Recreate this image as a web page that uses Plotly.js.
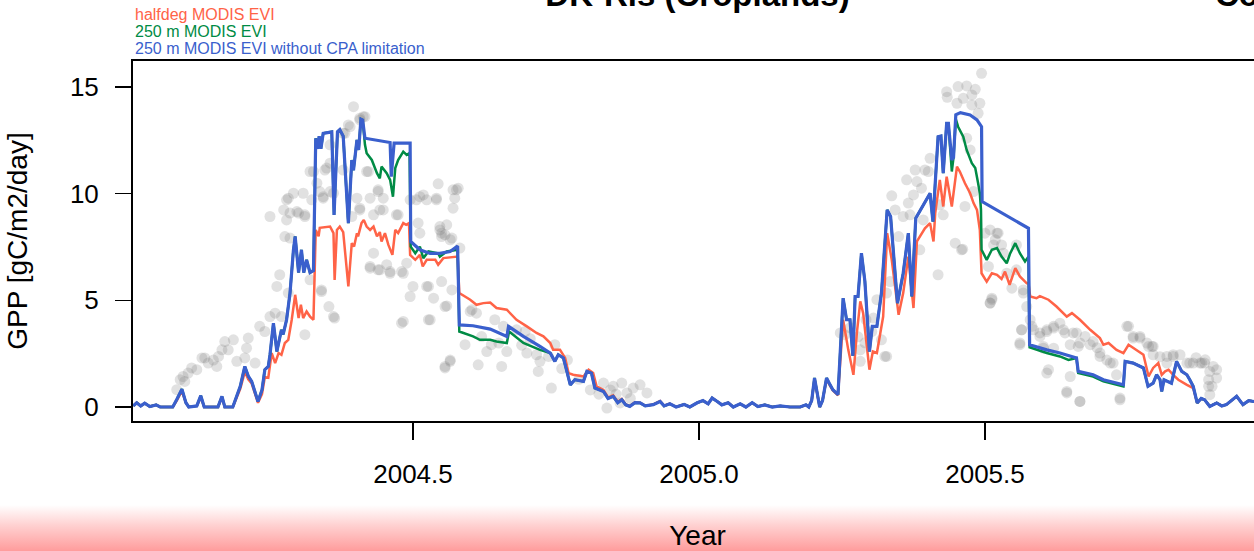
<!DOCTYPE html>
<html>
<head>
<meta charset="utf-8">
<script src="https://cdn.plot.ly/plotly-3.0.1.min.js"></script>
<style>
html,body{margin:0;padding:0;width:1254px;height:551px;overflow:hidden;background:#fff;}
#band{position:absolute;left:0;top:505px;width:1254px;height:46px;background:linear-gradient(to bottom,#ffffff 0%,#ffd0d0 45%,#ff9c9c 100%);z-index:0;}
#chart{position:absolute;left:0;top:0;width:1262px;height:551px;z-index:1;}
</style>
</head>
<body>
<div id="band"></div>
<div id="chart"></div>
<script>
// ---- data ----
const xTickVals = [2004.5, 2005.0, 2005.5];
const xTickText = ["2004.5", "2005.0", "2005.5"];
const yTickVals = [0, 5, 10, 15];
const yTickText = ["0", "5", "10", "15"];
const seriesNames = ["halfdeg MODIS EVI", "250 m MODIS EVI", "250 m MODIS EVI without CPA limitation"];

// observed GPP (grey dots)
const obsYear = [
2004.087,2004.093,2004.098,2004.101,2004.107,2004.113,2004.122,2004.131,2004.136,2004.142,2004.151,2004.157,2004.160,2004.166,2004.171,2004.177,2004.186,2004.192,2004.206,2004.212,2004.209,2004.224,2004.232,2004.241,2004.250,2004.259,2004.262,2004.267,2004.270,2004.282,2004.285,2004.311,2004.320,2004.340,2004.353,2004.363,2004.425,2004.439,2004.454,2004.460,2004.480,2004.483,2004.500,2004.495,2004.527,2004.530,2004.536,2004.550,2004.556,2004.556,2004.565,
2004.396,2004.413,2004.407,2004.390,2004.378,2004.355,2004.346,2004.326,2004.332,2004.323,2004.308,2004.291,2004.279,2004.274,2004.285,2004.297,2004.311,2004.250,2004.279,2004.343,2004.361,2004.402,2004.407,2004.431,2004.439,2004.448,2004.471,2004.495,2004.506,2004.518,2004.544,2004.541,2004.509,2004.512,2004.547,2004.556,2004.419,2004.378,2004.355,2004.387,2004.407,2004.416,2004.381,2004.422,2004.439,2004.425,2004.442,2004.448,2004.474,2004.512,2004.524,2004.541,2004.570,2004.570,2004.579,2004.547,2004.550,2004.568,2004.276,2004.282,2004.300,2004.311,2004.337,2004.343,2004.355,2004.320,2004.349,2004.407,2004.393,2004.431,2004.442,2004.460,2004.480,2004.489,2004.425,2004.361,2004.340,2004.524,2004.568,2004.483,2004.527,2004.600,
2004.576,2004.573,2004.559,2004.550,2004.565,2004.582,2004.559,2004.603,2004.611,2004.591,2004.565,2004.556,2004.614,2004.629,2004.637,2004.643,2004.655,2004.658,2004.664,2004.681,2004.696,2004.699,2004.716,2004.722,2004.719,2004.737,2004.748,2004.742,2004.833,2004.850,2004.865,2004.874,2004.885,2004.897,2004.909,2004.839,2004.862,2004.620,2004.650,2004.690,2004.705,2004.760,2004.770,2004.790,2004.810,2004.825,2004.845,2004.855,2004.880,
2005.494,2005.433,2005.453,2005.468,2005.483,2005.477,2005.462,2005.451,2005.434,2005.491,2005.477,2005.488,2005.468,2005.474,2005.404,2005.395,2005.378,2005.401,2005.363,2005.381,2005.389,2005.337,2005.375,2005.343,2005.366,2005.357,2005.369,2005.392,2005.421,2005.427,2005.480,2005.465,2005.448,2005.459,2005.418,2005.386,2005.349,2005.334,2005.328,2005.305,2005.319,2005.325,2005.282,2005.247,2005.509,2005.523,2005.518,2005.529,2005.538,2005.555,2005.567,2005.573,2005.512,2005.509,2005.564,2005.561,
2005.255,2005.264,2005.278,2005.290,2005.292,2005.302,2005.328,2005.282,2005.311,
2005.461,2005.500,2005.521,2005.515,2005.532,2005.506,2005.555,2005.547,2005.567,2005.582,2005.596,2005.608,2005.620,2005.631,2005.640,2005.602,2005.620,2005.649,2005.660,2005.675,2005.663,2005.689,2005.696,2005.701,2005.713,2005.724,2005.611,2005.649,2005.643,2005.666,2005.751,2005.759,2005.771,2005.783,2005.792,2005.794,2005.730,2005.736,2005.818,2005.829,2005.853,2005.864,2005.879,2005.893,2005.905,2005.891,2005.897,2005.806,2005.841,2005.869,2005.885,2005.579,
2005.608,2005.620,2005.637,2005.654,2005.666,2005.684,2005.701,2005.719,2005.748,2005.759,2005.771,2005.786,2005.794,2005.818,2005.829,2005.858,2005.876,2005.884,2005.899,2005.905,2005.891,2005.893,2005.608,2005.643,2005.666,2005.736,2005.564,2005.561,2005.585,2005.596,2005.602,2005.512,2005.509
];
const obsGPP = [
0.81,1.28,1.43,1.2,1.59,1.83,1.75,2.3,2.3,2.06,2.2,1.9,2.37,2.68,3.07,2.68,3.15,2.14,2.3,3.23,2.76,2.06,3.78,3.54,4.24,4.4,5.65,6.2,4.24,5.34,7.92,3.39,5.96,5.41,4.71,4.17,6.51,6.43,6.67,6.27,3.93,6.27,5.65,5.18,5.65,4.09,5.1,5.88,4.71,1.9,2.2,
14.08,13.61,13.46,13.14,12.83,11.43,11.11,11.04,10.49,9.71,10.02,10.02,9.71,9.24,9.09,9.16,9.01,8.93,8.77,9.86,10.02,9.79,9.24,9.01,10.1,9.24,9.01,9.71,9.71,9.94,10.46,9.71,8.62,8.15,8.3,8.07,11.04,11.11,12.29,13.22,13.54,13.61,12.83,11.04,10.18,9.79,9.24,9.79,9.01,9.86,9.71,9.79,9.32,10.18,10.26,8.46,7.99,7.92,7.99,9.79,9.09,8.93,10.1,9.79,10.1,11.04,11.2,9.32,8.93,7.21,6.43,6.35,6.35,6.74,6.59,4.24,5.49,5.65,5.49,4.01,4.09,4.48,
10.18,9.79,8.54,8.15,7.84,7.45,4.74,4.56,4.4,2.92,2.14,1.83,1.98,2.6,2.92,4.09,1.9,3.78,2.6,3.62,3.54,2.53,2.45,2.14,1.67,2.37,2.92,0.89,1.12,0.97,1.12,0.66,0.89,1.04,0.66,-0.05,0.19,3.3,3.0,2.9,3.2,1.8,2.2,1.3,0.8,0.6,0.8,0.6,0.4,
15.64,14.78,15.02,15.05,14.89,14.63,14.47,14.24,14.52,14.24,14.16,13.77,12.6,12.05,11.66,11.11,11.11,11.04,10.65,10.57,10.26,9.9,9.94,9.24,9.56,8.93,9.01,8.77,9.48,9.01,10.1,9.4,7.68,7.37,6.2,7.37,7.99,5.88,5.34,4.17,3.15,2.37,2.68,3.47,8.3,8.15,7.84,7.6,6.27,7.6,5.49,4.71,5.1,4.87,3.62,2.92,
3.39,3.71,3.29,3.01,4.09,3.54,2.37,2.14,5.03,
7.4,8.15,8.15,7.6,7.21,6.59,6.43,5.57,5.34,3.78,3.47,3.62,3.78,3.93,3.47,2.84,2.76,2.92,3.47,3.31,2.84,3.07,2.78,2.53,2.2,2.06,1.75,1.43,0.73,0.26,3.78,3.31,3.23,3.0,2.84,2.45,1.51,0.42,2.06,2.45,2.06,2.06,2.06,1.67,1.75,1.28,0.97,2.36,2.45,2.31,2.21,4.09,
3.54,3.7,3.62,3.47,3.0,2.92,2.37,2.06,3.78,3.23,3.31,2.84,2.84,2.37,2.37,2.06,2.06,2.06,1.9,1.36,0.97,0.58,1.59,0.66,0.26,0.34,3.62,3.0,3.62,3.31,2.76,5.03,4.87
];

// 250 m MODIS EVI without CPA limitation (blue)
const noCpaYear = [
2004.011,2004.017,2004.024,2004.031,2004.040,2004.051,2004.058,2004.080,2004.087,2004.096,2004.103,2004.108,2004.122,2004.129,2004.135,2004.159,2004.166,2004.171,2004.185,2004.198,2004.206,2004.212,2004.218,2004.229,2004.236,2004.241,2004.247,2004.250,2004.256,2004.262,2004.270,2004.273,2004.279,2004.285,2004.291,2004.294,2004.300,2004.305,2004.309,2004.314,2004.320,2004.326,2004.330,2004.333,2004.336,2004.339,2004.343,2004.358,2004.362,2004.368,2004.372,2004.378,2004.387,2004.393,2004.396,2004.399,2004.402,2004.405,2004.409,2004.412,2004.416,2004.460,2004.462,2004.467,2004.495,2004.496,2004.512,2004.530,2004.547,2004.565,2004.578,2004.581,2004.605,2004.635,2004.664,2004.667,2004.693,2004.722,2004.740,2004.748,2004.754,2004.763,2004.769,2004.775,2004.783,2004.798,2004.804,2004.812,2004.818,2004.833,2004.841,2004.850,2004.858,2004.865,2004.872,2004.879,2004.888,2004.897,2004.906,2004.920,2004.932,2004.939,2004.949,2004.960,2004.974,2004.984,2004.997,2005.007,2005.016,2005.023,2005.032,2005.040,2005.051,2005.060,2005.072,2005.082,2005.093,2005.103,2005.115,2005.128,2005.142,2005.159,2005.177,2005.187,2005.192,2005.197,2005.202,2005.208,2005.211,2005.216,2005.223,2005.228,2005.234,2005.243,2005.252,2005.258,2005.264,2005.269,2005.273,2005.278,2005.284,2005.290,2005.298,2005.303,2005.311,2005.319,2005.329,2005.335,2005.347,2005.357,2005.366,2005.372,2005.379,2005.404,2005.409,2005.413,2005.418,2005.423,2005.427,2005.433,2005.436,2005.442,2005.445,2005.449,2005.457,2005.474,2005.486,2005.494,2005.495,2005.576,2005.578,2005.608,2005.631,2005.660,2005.663,2005.689,2005.707,2005.742,2005.745,2005.759,2005.777,2005.785,2005.794,2005.800,2005.806,2005.809,2005.813,2005.826,2005.835,2005.844,2005.853,2005.858,2005.864,2005.871,2005.878,2005.884,2005.893,2005.905,2005.914,2005.922,2005.930,2005.940,2005.951,2005.961,2005.970,2005.985
];
const noCpaGPP = [
0.05,0.2,0.05,0.18,0.02,0.1,0.0,0.0,0.35,0.84,0.2,0.0,0.05,0.53,0.0,0.0,0.5,0.0,0.0,0.97,1.9,1.45,1.2,0.26,0.8,1.75,1.9,2.45,3.93,2.6,3.62,3.4,4.09,5.34,7.37,8.0,6.3,7.37,6.3,6.9,6.3,6.4,12.6,12.1,12.7,12.1,12.83,12.9,9.0,12.9,13.0,12.7,8.62,11.58,11.1,11.8,12.52,12.05,13.49,13.45,12.6,12.4,10.8,12.37,12.37,7.76,7.37,7.2,7.2,7.29,7.55,3.85,3.81,3.65,3.31,3.78,3.31,2.84,2.53,2.14,2.45,2.3,1.59,1.04,1.28,1.2,1.67,1.59,0.89,0.73,0.4,0.5,0.2,0.34,0.1,0.03,0.2,0.19,0.05,0.11,0.26,0.05,0.15,0.0,0.12,0.0,0.2,0.3,0.15,0.42,0.26,0.1,0.2,0.0,0.15,0.0,0.2,0.02,0.1,0.0,0.05,0.0,0.0,0.1,0.0,0.3,1.36,0.5,0.0,0.3,1.36,1.1,0.81,0.58,5.1,4.09,4.09,2.4,5.18,5.18,7.21,5.9,2.6,3.78,3.78,5.34,9.24,8.93,4.87,6.27,8.15,5.18,8.85,10.02,8.69,10.49,12.67,12.7,10.96,13.3,13.3,11.58,11.7,13.7,13.8,13.69,13.46,13.14,9.63,8.38,2.92,2.68,2.53,2.3,1.67,1.51,1.28,1.04,2.14,2.06,1.83,0.97,1.12,1.51,1.28,0.73,1.28,1.12,2.14,1.67,1.51,1.28,0.97,0.19,0.4,0.34,0.03,0.19,0.05,0.11,0.3,0.5,0.11,0.3,0.26,0.2
];

// 250 m MODIS EVI (green)
const evi250Year = [
2004.011,2004.017,2004.024,2004.031,2004.040,2004.051,2004.058,2004.080,2004.087,2004.096,2004.103,2004.108,2004.122,2004.129,2004.135,2004.159,2004.166,2004.171,2004.185,2004.198,2004.206,2004.212,2004.218,2004.229,2004.236,2004.241,2004.247,2004.250,2004.256,2004.262,2004.270,2004.273,2004.279,2004.285,2004.291,2004.294,2004.300,2004.305,2004.309,2004.314,2004.320,2004.326,2004.330,2004.333,2004.336,2004.339,2004.343,2004.358,2004.362,2004.368,2004.372,2004.378,2004.387,2004.393,2004.396,2004.399,2004.402,2004.405,2004.409,2004.412,
2004.416,2004.419,2004.428,2004.437,2004.442,2004.445,2004.454,2004.460,2004.465,2004.469,2004.474,2004.483,2004.489,2004.494,2004.496,2004.504,2004.512,2004.518,2004.527,2004.544,2004.547,2004.559,2004.578,2004.581,2004.605,2004.617,2004.635,2004.646,2004.664,2004.668,2004.693,2004.722,2004.740,
2004.748,2004.754,2004.763,2004.769,2004.775,2004.783,2004.798,2004.804,2004.812,2004.818,2004.833,2004.841,2004.850,2004.858,2004.865,2004.872,2004.879,2004.888,2004.897,2004.906,2004.920,2004.932,2004.939,2004.949,2004.960,2004.974,2004.984,2004.997,2005.007,2005.016,2005.023,2005.032,2005.040,2005.051,2005.060,2005.072,2005.082,2005.093,2005.103,2005.115,2005.128,2005.142,2005.159,2005.177,2005.187,2005.192,2005.197,2005.202,2005.208,2005.211,2005.216,2005.223,2005.228,2005.234,2005.243,2005.252,2005.258,2005.264,2005.269,2005.273,2005.278,2005.284,2005.290,2005.298,2005.303,2005.311,2005.319,2005.329,2005.335,2005.347,2005.357,2005.366,2005.372,2005.379,2005.404,2005.409,2005.413,2005.418,2005.423,2005.427,2005.433,2005.436,2005.442,2005.445,
2005.449,2005.453,2005.462,2005.468,2005.477,2005.483,2005.488,2005.491,2005.493,2005.494,2005.503,2005.512,2005.521,2005.529,2005.538,2005.544,2005.553,2005.561,2005.570,2005.576,2005.578,2005.608,2005.631,2005.646,2005.660,2005.663,2005.689,2005.707,2005.742,
2005.745,2005.759,2005.777,2005.785,2005.794,2005.800,2005.806,2005.809,2005.813,2005.826,2005.835,2005.844,2005.853,2005.858,2005.864,2005.871,2005.878,2005.884,2005.893,2005.905,2005.914,2005.922,2005.930,2005.940,2005.951,2005.961,2005.970,2005.985
];
const evi250GPP = [
0.05,0.2,0.05,0.18,0.02,0.1,0.0,0.0,0.35,0.84,0.2,0.0,0.05,0.53,0.0,0.0,0.5,0.0,0.0,0.97,1.9,1.45,1.2,0.26,0.8,1.75,1.9,2.45,3.93,2.6,3.62,3.4,4.09,5.34,7.37,8.0,6.3,7.37,6.3,6.9,6.3,6.4,12.6,12.1,12.7,12.1,12.83,12.9,9.0,12.9,13.0,12.7,8.62,11.58,11.1,11.8,12.52,12.05,13.49,13.45,
12.3,11.9,11.58,10.96,10.72,11.27,10.96,10.65,9.86,11.2,11.58,11.97,11.82,11.9,7.52,7.21,7.52,6.98,7.29,7.2,7.05,7.29,7.37,3.54,3.31,3.15,3.15,3.07,3.0,3.54,3.0,2.68,2.53,
2.14,2.45,2.3,1.59,1.04,1.28,1.2,1.67,1.59,0.89,0.73,0.4,0.5,0.2,0.34,0.1,0.03,0.2,0.19,0.05,0.11,0.26,0.05,0.15,0.0,0.12,0.0,0.2,0.3,0.15,0.42,0.26,0.1,0.2,0.0,0.15,0.0,0.2,0.02,0.1,0.0,0.05,0.0,0.0,0.1,0.0,0.3,1.36,0.5,0.0,0.3,1.36,1.1,0.81,0.58,5.1,4.09,4.09,2.4,5.18,5.18,7.21,5.9,2.6,3.78,3.78,5.34,9.24,8.93,4.87,6.27,8.15,5.18,8.85,10.02,8.69,10.49,12.67,12.7,10.96,13.3,13.3,11.04,11.7,
13.5,13.14,12.67,12.05,11.43,11.2,10.49,10.02,9.24,7.37,6.9,7.37,7.45,7.05,6.74,7.2,7.68,7.21,6.82,7.05,2.8,2.53,2.37,2.21,2.3,1.59,1.43,1.2,0.97,
2.14,2.06,1.83,0.97,1.12,1.51,1.28,0.73,1.28,1.12,2.14,1.67,1.51,1.28,0.97,0.19,0.4,0.34,0.03,0.19,0.05,0.11,0.3,0.5,0.11,0.3,0.26,0.2
];

// halfdeg MODIS EVI (red)
const halfdegYear = [
2004.011,2004.017,2004.024,2004.031,2004.040,2004.051,2004.058,2004.080,2004.087,2004.096,2004.103,2004.108,2004.122,2004.129,2004.135,2004.159,2004.166,2004.171,2004.185,
2004.198,2004.206,2004.212,2004.218,2004.229,2004.236,2004.241,2004.247,2004.253,2004.259,2004.265,2004.270,2004.276,2004.282,2004.288,2004.294,2004.300,2004.304,2004.308,2004.314,2004.320,2004.326,2004.330,2004.335,2004.337,2004.355,2004.361,2004.363,2004.367,2004.372,2004.378,2004.387,2004.393,2004.397,2004.402,2004.404,2004.410,2004.414,2004.419,2004.425,2004.431,2004.437,2004.442,2004.445,2004.451,2004.457,2004.464,2004.469,2004.474,2004.483,2004.488,2004.493,2004.495,2004.504,2004.512,2004.517,2004.524,2004.539,2004.544,2004.553,2004.578,2004.581,2004.600,2004.611,2004.623,2004.635,2004.646,2004.664,2004.681,2004.699,2004.716,2004.728,2004.740,2004.745,2004.757,2004.766,2004.772,2004.780,2004.798,2004.807,2004.815,2004.821,2004.833,
2004.841,2004.850,2004.858,2004.865,2004.872,2004.879,2004.888,2004.897,2004.906,2004.920,2004.932,2004.939,2004.949,2004.960,2004.974,2004.984,2004.997,2005.007,2005.016,2005.023,2005.032,2005.040,2005.051,2005.060,2005.072,2005.082,2005.093,2005.103,2005.115,2005.128,2005.142,2005.159,2005.177,2005.187,2005.192,2005.197,2005.202,2005.208,2005.211,2005.216,2005.223,2005.228,2005.234,2005.243,
2005.252,2005.261,2005.270,2005.276,2005.282,2005.287,2005.298,2005.304,2005.311,2005.322,2005.329,2005.337,2005.349,2005.357,2005.366,2005.375,2005.381,2005.395,2005.404,2005.410,2005.413,2005.421,2005.427,2005.433,2005.442,2005.451,2005.456,2005.465,2005.474,2005.480,2005.486,2005.491,2005.494,2005.503,2005.512,2005.521,2005.529,2005.535,2005.543,2005.553,2005.561,2005.573,2005.576,2005.579,2005.590,2005.596,2005.611,2005.625,2005.643,2005.652,2005.666,2005.684,2005.701,2005.707,2005.716,2005.730,2005.742,2005.751,2005.765,2005.777,2005.786,2005.794,2005.803,2005.809,2005.815,2005.821,2005.829,2005.838,2005.853,2005.864,
2005.871,2005.878,2005.884,2005.893,2005.905,2005.914,2005.922,2005.930,2005.940,2005.951,2005.961,2005.970,2005.985
];
const halfdegGPP = [
0.05,0.2,0.05,0.18,0.02,0.1,0.0,0.0,0.3,0.75,0.2,0.0,0.05,0.45,0.0,0.0,0.45,0.0,0.0,
0.85,1.65,1.3,1.1,0.2,0.6,1.4,1.37,2.53,2.06,2.53,2.45,3.0,3.15,4.09,5.26,4.17,4.79,4.17,4.48,4.24,4.09,8.3,8.0,8.4,8.46,8.15,5.96,8.3,8.46,8.2,5.65,7.68,7.52,8.15,8.0,8.62,8.77,8.46,8.3,8.46,8.0,8.2,7.76,8.15,7.6,7.13,8.3,8.15,8.62,8.54,8.62,7.13,6.9,7.13,6.59,6.9,6.9,6.67,6.98,7.05,5.34,5.03,4.79,4.87,4.9,4.64,4.56,4.09,3.78,3.47,3.31,3.0,2.68,2.68,2.3,1.59,1.51,1.43,1.75,1.59,0.97,0.8,
0.45,0.55,0.25,0.38,0.12,0.05,0.22,0.2,0.06,0.12,0.28,0.06,0.16,0.0,0.12,0.0,0.2,0.3,0.15,0.42,0.26,0.1,0.2,0.0,0.15,0.0,0.2,0.02,0.1,0.0,0.05,0.0,0.0,0.1,0.0,0.3,1.3,0.5,0.0,0.3,1.3,1.05,0.78,0.55,
4.09,2.68,1.51,3.47,4.95,4.4,1.75,2.6,2.53,4.24,8.15,6.9,4.32,5.34,7.05,4.64,7.76,8.38,8.62,7.76,9.09,10.65,9.4,10.8,9.4,11.27,11.04,10.49,10.02,9.56,9.24,8.3,6.27,5.88,6.27,6.2,6.0,6.35,5.73,6.51,6.12,5.8,5.8,5.18,5.1,5.2,5.03,4.71,4.24,4.4,4.09,3.62,3.23,2.92,3.0,2.68,2.53,2.92,2.68,2.45,1.43,1.83,2.06,1.51,1.67,1.75,1.51,1.28,1.04,0.89,
0.19,0.4,0.34,0.03,0.19,0.05,0.11,0.3,0.5,0.11,0.3,0.26,0.2
];

// ---- plot ----
const colRed = "#FF6347", colGreen = "#008B45", colBlue = "#3A5FCD";
const font = "Liberation Sans, Arial, Helvetica, sans-serif";

const traces = [
  {x: obsYear, y: obsGPP, type: "scatter", mode: "markers", name: "observed",
   marker: {size: 11, color: "rgba(120,120,120,0.22)", line: {width: 0}}, showlegend: false},
  {x: halfdegYear, y: halfdegGPP, type: "scatter", mode: "lines", name: seriesNames[0],
   line: {color: colRed, width: 2.5}, showlegend: false},
  {x: evi250Year, y: evi250GPP, type: "scatter", mode: "lines", name: seriesNames[1],
   line: {color: colGreen, width: 2.5}, showlegend: false},
  {x: noCpaYear, y: noCpaGPP, type: "scatter", mode: "lines", name: seriesNames[2],
   line: {color: colBlue, width: 3.2}, showlegend: false}
];

const legendColors = [colRed, colGreen, colBlue];
const legendY = [1.128, 1.081, 1.036];
const annotations = seriesNames.map((t, i) => ({
  text: t, xref: "paper", yref: "paper", x: 0.0, y: legendY[i],
  xanchor: "left", yanchor: "middle", showarrow: false,
  font: {family: font, size: 16, color: legendColors[i]}
}));
annotations.push({
  text: "Co", xref: "paper", yref: "paper", x: 0.957, y: 1.128,
  xanchor: "left", yanchor: "bottom", showarrow: false,
  font: {family: font, size: 33, color: "#000", weight: "bold"}
});

const layout = {
  width: 1262, height: 551,
  margin: {l: 133, r: 0, t: 61, b: 130},
  paper_bgcolor: "rgba(0,0,0,0)", plot_bgcolor: "#ffffff",
  font: {family: font, color: "#000", size: 26},
  title: {text: "DK-Ris (Croplands)", x: 0.5, xref: "paper", xanchor: "center",
          y: 0.989, yref: "container", yanchor: "bottom",
          font: {family: font, size: 33, color: "#000", weight: "bold"}},
  showlegend: false,
  xaxis: {
    range: [2004.0105, 2005.9843], tickmode: "array", tickvals: xTickVals, ticktext: xTickText,
    ticks: "outside", ticklen: 17, tickwidth: 1.5, tickcolor: "#000",
    showline: true, linecolor: "#000", linewidth: 2, mirror: true,
    showgrid: false, zeroline: false, ticklabelstandoff: 12,
    tickfont: {family: font, size: 26, color: "#000"},
    title: {text: "Year", font: {family: font, size: 28, color: "#000"}, standoff: 47},
    automargin: false
  },
  yaxis: {
    range: [-0.656, 16.22], tickmode: "array", tickvals: yTickVals, ticktext: yTickText,
    ticks: "outside", ticklen: 16, tickwidth: 1.5, tickcolor: "#000",
    showline: true, linecolor: "#000", linewidth: 2, mirror: false,
    showgrid: false, zeroline: false, ticklabelstandoff: 11,
    tickfont: {family: font, size: 26, color: "#000"},
    title: {text: "GPP [gC/m2/day]", font: {family: font, size: 28, color: "#000"}, standoff: 34},
    automargin: false
  },
  annotations: annotations,
  hovermode: false
};

Plotly.newPlot("chart", traces, layout, {displayModeBar: false, staticPlot: true});
</script>
</body>
</html>
